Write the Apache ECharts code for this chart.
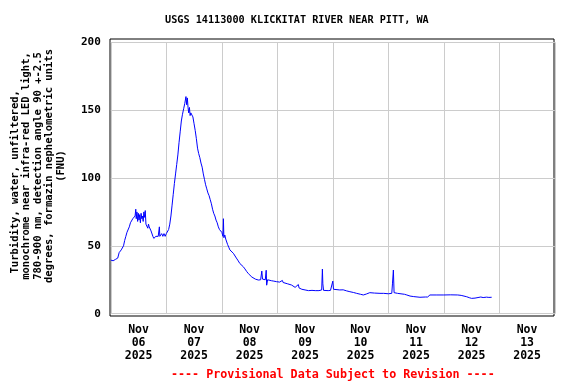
<!DOCTYPE html>
<html><head><meta charset="utf-8">
<script src="https://cdn.jsdelivr.net/npm/echarts@6/dist/echarts.min.js"></script>
<style>html,body{margin:0;padding:0;background:#fff}#c{width:576px;height:384px}</style>
</head><body><div id="c"></div>
<script>
// hours since 2025-11-06 00:00
const hours = [0,0.5,1,1.5,2,2.5,3,3.3,3.6,4,4.5,5,5.5,6,6.5,7,7.5,8,8.5,9,9.5,10,10.5,10.8,11,11.3,11.6,11.9,12.2,12.5,12.8,13.1,13.4,13.7,14,14.3,14.6,14.9,15.2,15.5,16,16.3,16.6,17,17.4,17.8,18.2,18.6,19,19.5,20,20.5,21,21.2,21.6,22,22.5,23,23.5,
24,24.5,25,25.5,26,26.5,27,27.5,28,28.5,29,29.5,30,30.5,31,31.5,32,32.5,32.8,33.1,33.4,33.7,34,34.3,34.6,35,35.5,36,36.5,37,37.5,38,38.5,39,39.5,40,40.5,41,41.5,42,42.5,43,43.5,44,44.5,45,45.5,46,46.5,47,47.5,48,48.5,48.7,48.9,49.3,49.7,50.1,50.5,51,51.5,
52.3,53,53.7,54.3,54.9,55.8,56.5,57.3,58,58.8,59.5,60.2,61,61.6,62.5,63.8,64.8,65.3,65.6,66.2,66.8,67.2,67.4,67.8,68.5,69.5,70.5,71.7,73,74.2,74.5,75.3,76.5,78.2,79.7,80.5,81.1,81.4,82.6,84,85.5,87,88.4,90,91.2,91.5,91.7,92,92.6,94,95,95.8,
96,96.3,97,99,100.5,102,103.4,105,106.3,108,109.2,110.5,112,114,116.4,118,120,121.5,121.8,122.2,122.5,124,127,128,129.4,131,133.7,136,137,138,141,144,147,150,151.5,153.9,155,156,157.5,158.2,160,161,162.5,163.5,164.7];
const turbidity = [39.5,38.5,39,38,40,39.5,41,40.5,45,44,47,47.5,50,54,57,60,61,64,67,68,70,70.5,72,77,70,75,68,74,69,73,67,74,70,72,68,75,71,76,66,67,63,66,64,65,61,60,57,55.5,56,57,58,57,64,57,58,59,57,59,57,
59,60,62,66,72,80,88,96,103,110,117,126,134,142,147,151,155,160,154,159,152,148,152,146,148,147,145,140,135,129,122,118,115,111,108,103,99,95,92,89,87,84,81,77,74,72,69,67,64,62,61,60,57,70,56,58,55,54,51,49,47,
45.7,44.5,43.2,41,39.5,37,35.8,34.6,33,31,29.5,28.5,27,26,25.5,24.8,25,31.4,25.5,26,25,32,21,25,25,24.3,24,23.6,23.3,24.5,23,22.4,22,21.1,19.4,20,21.5,19,18,17.5,17,17.2,17,17,17.5,32.9,22,17.2,17.4,17,17.2,18,
24,18,17.5,17.5,17.6,16.8,16.2,15.6,15,14.3,13.8,14.5,15.5,15.2,15,15,14.7,15,22,32.2,15.5,15,14.3,13.8,13,12.6,12.1,12.3,12.3,13.8,13.8,13.8,13.9,13.8,13.5,12.5,11.8,11.3,11.5,12,12.3,11.9,12.2,12,12.1];
const dayLabels = ['Nov\n06\n2025','Nov\n07\n2025','Nov\n08\n2025','Nov\n09\n2025','Nov\n10\n2025','Nov\n11\n2025','Nov\n12\n2025','Nov\n13\n2025'];
const yMin = 0, yMax = 200, yStep = 50;
const titleText = 'USGS 14113000 KLICKITAT RIVER NEAR PITT, WA';
const yName = 'Turbidity, water, unfiltered,     \nmonochrome near infra-red LED light,\n780-900 nm, detection angle 90 +-2.5\ndegrees, formazin nephelometric units\n(FNU)';
const footer = '---- Provisional Data Subject to Revision ----';

const FONT = 'DejaVu Sans Mono';
const chart = echarts.init(document.getElementById('c'), null, {renderer: 'canvas'});
chart.setOption({
  animation: false,
  backgroundColor: '#fff',
  title: [
    {text: titleText, left: 165, top: 15, padding: 0,
     textStyle: {fontFamily: FONT, fontWeight: 'bold', fontSize: 10.2, color: '#000'}},
    {text: footer, left: 171, top: 369, padding: 0,
     textStyle: {fontFamily: FONT, fontWeight: 'bold', fontSize: 11.7, color: '#ff0000'}}
  ],
  grid: [
    {left: 110.8, right: 21.2, top: 42.3, bottom: 70.3, show: false},
    {left: 110, right: 22, top: 39, bottom: 68, show: true, borderColor: '#000', borderWidth: 1, backgroundColor: 'transparent'}
  ],
  xAxis: [
    {type: 'value', gridIndex: 0, min: 0, max: 192, interval: 24,
     axisLine: {show: false}, axisTick: {show: false}, axisLabel: {show: false},
     splitLine: {show: true, lineStyle: {color: '#cccccc', width: 1}}},
    {type: 'value', gridIndex: 0, min: 0, max: 192, interval: 12, position: 'bottom',
     axisLine: {show: false}, axisTick: {show: false}, splitLine: {show: false},
     axisLabel: {show: true, margin: 10, fontFamily: FONT, fontWeight: 'bold', fontSize: 11.5, color: '#000', lineHeight: 13,
       showMinLabel: true, showMaxLabel: true,
       formatter: v => (Math.round(v) % 24 === 12) ? dayLabels[Math.round((v - 12) / 24)] : ''}},
    {type: 'value', gridIndex: 1, show: false, min: 0, max: 1}
  ],
  yAxis: [
    {type: 'value', gridIndex: 0, min: yMin, max: yMax, interval: yStep,
     axisLine: {show: false}, axisTick: {show: false},
     splitLine: {show: true, lineStyle: {color: '#cccccc', width: 1}},
     axisLabel: {margin: 10, fontFamily: FONT, fontWeight: 'bold', fontSize: 11, color: '#000'},
     name: yName, nameLocation: 'middle', nameRotate: 90, nameGap: 44,
     nameTextStyle: {fontFamily: FONT, fontWeight: 'bold', fontSize: 10.5, color: '#000', lineHeight: 11.5, align: 'center', padding: [0, 0, 0, 24]}},
    {type: 'value', gridIndex: 1, show: false, min: 0, max: 1}
  ],
  series: [{
    type: 'line', xAxisIndex: 0, yAxisIndex: 0,
    data: hours.map((h, i) => [h, turbidity[i]]),
    showSymbol: false, symbol: 'none',
    lineStyle: {color: '#0000ff', width: 1},
    itemStyle: {color: '#0000ff'}
  }]
});
</script></body></html>
